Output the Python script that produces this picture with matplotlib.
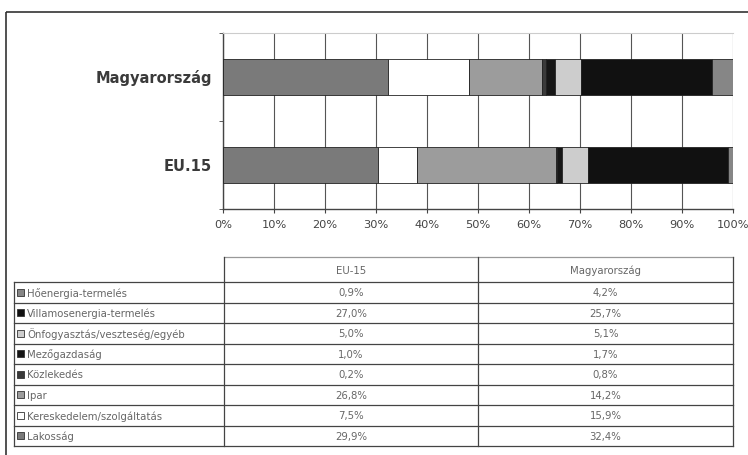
import numpy as np
import matplotlib.pyplot as plt
from matplotlib.patches import Rectangle

plt.rcParams['font.family'] = ['DejaVu Sans']

# Kategóriák (a táblázat sorrendjében)
categories = ['Hőenergia-termelés', 'Villamosenergia-termelés', 'Önfogyasztás/veszteség/egyéb',
              'Mezőgazdaság', 'Közlekedés', 'Ipar', 'Kereskedelem/szolgáltatás', 'Lakosság']
colors = ['#868686', '#111111', '#cdcdcd', '#161616', '#3a3a3a', '#9c9c9c', '#ffffff', '#7a7a7a']

eu15 = [0.9, 27.0, 5.0, 1.0, 0.2, 26.8, 7.5, 29.9]
hu = [4.2, 25.7, 5.1, 1.7, 0.8, 14.2, 15.9, 32.4]
eu15_labels = ['0,9%', '27,0%', '5,0%', '1,0%', '0,2%', '26,8%', '7,5%', '29,9%']
hu_labels = ['4,2%', '25,7%', '5,1%', '1,7%', '0,8%', '14,2%', '15,9%', '32,4%']

countries = ['EU.15', 'Magyarország']
col_headers = ['EU-15', 'Magyarország']

W, H = 748, 455
fig = plt.figure(figsize=(W / 100, H / 100), dpi=100)

# 100%-os halmozott sávdiagram
ax = fig.add_axes([223 / W, 1 - 209 / H, 510 / W, 176 / H])
data = np.array([eu15, hu])
data = data / data.sum(axis=1, keepdims=True) * 100
ypos = np.arange(len(countries))
left = np.zeros(len(countries))
# balról jobbra: Lakosság ... Hőenergia (fordított sorrend)
for i in range(len(categories) - 1, -1, -1):
    ax.barh(ypos, data[:, i], left=left, height=0.4, color=colors[i],
            edgecolor='#222222', linewidth=0.6, zorder=3)
    left += data[:, i]

ax.set_xlim(0, 100)
ax.set_ylim(-0.5, 1.5)
ax.set_xticks(np.arange(0, 101, 10))
ax.set_xticklabels([f'{v}%' for v in range(0, 101, 10)], fontsize=8.2, color='#444444')
ax.set_yticks(ypos)
ax.set_yticklabels(countries, fontsize=10.5, fontweight='bold', color='#3a3a3a')
ax.set_yticks([-0.5, 0.5, 1.5], minor=True)
ax.tick_params(axis='y', which='major', length=0, pad=8)
ax.tick_params(axis='y', which='minor', length=3, color='#444444')
ax.tick_params(axis='x', length=3, color='#444444', pad=5)
ax.grid(axis='x', color='#555555', linewidth=0.8, zorder=0)
for s in ['left', 'bottom']:
    ax.spines[s].set_color('#444444')
    ax.spines[s].set_linewidth(1.0)
ax.spines['top'].set_color('#cccccc')
ax.spines['right'].set_visible(False)

# Táblázat (pixel koordinátákban)
tab = fig.add_axes([0, 0, 1, 1])
tab.set_xlim(0, W)
tab.set_ylim(H, 0)
tab.axis('off')
tab.add_patch(Rectangle((6, 12), 800, 500, fill=False, edgecolor='#333333', linewidth=1.2))

x0, x1, x2, x3 = 14, 224, 478, 733
y_head_top, y_head_bot = 257, 282
row_h = (446 - y_head_bot) / len(categories)
line_c = '#444444'

tab.plot([x1, x3], [y_head_top, y_head_top], color='#999999', lw=0.9)
for k in range(len(categories) + 1):
    y = y_head_bot + k * row_h
    tab.plot([x0, x3], [y, y], color=line_c, lw=0.9)
tab.plot([x0, x0], [y_head_bot, 446], color=line_c, lw=0.9)
for x in [x1, x2, x3]:
    tab.plot([x, x], [y_head_top, 446], color=line_c, lw=0.9)

txt_c = '#666666'
fs = 7.3
yh = (y_head_top + y_head_bot) / 2
tab.text((x1 + x2) / 2, yh, col_headers[0], ha='center', va='center_baseline', fontsize=fs, color=txt_c)
tab.text((x2 + x3) / 2, yh, col_headers[1], ha='center', va='center_baseline', fontsize=fs, color=txt_c)
for k, cat in enumerate(categories):
    yc = y_head_bot + (k + 0.5) * row_h
    tab.add_patch(Rectangle((17, yc - 3.5), 7, 7, facecolor=colors[k], edgecolor='#333333', lw=0.6))
    tab.text(27, yc, cat, ha='left', va='center_baseline', fontsize=fs, color=txt_c)
    tab.text((x1 + x2) / 2, yc, eu15_labels[k], ha='center', va='center_baseline', fontsize=fs, color=txt_c)
    tab.text((x2 + x3) / 2, yc, hu_labels[k], ha='center', va='center_baseline', fontsize=fs, color=txt_c)

fig.savefig('out.png', dpi=100)
